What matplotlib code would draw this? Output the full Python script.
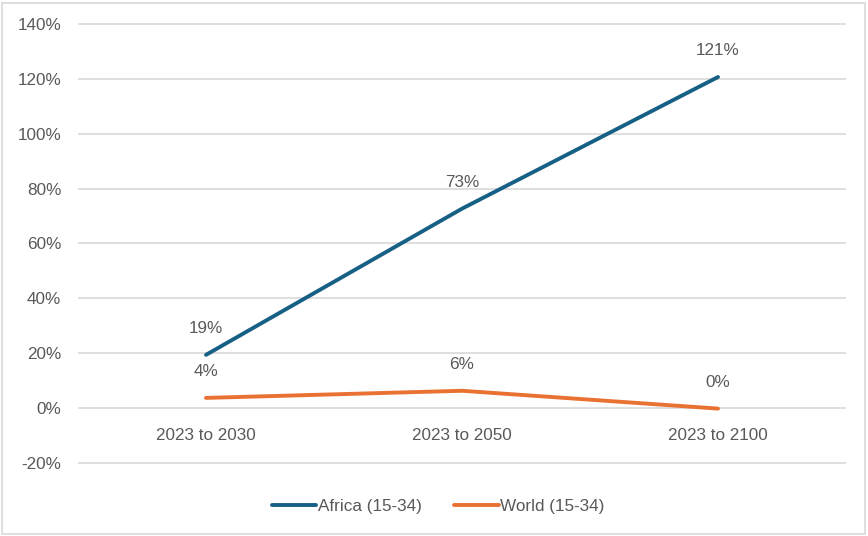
import matplotlib
matplotlib.use("Agg")
import matplotlib.pyplot as plt
from matplotlib.ticker import FuncFormatter
from matplotlib.patches import Rectangle

categories = ["2023 to 2030", "2023 to 2050", "2023 to 2100"]
africa = [0.194, 0.727, 1.207]
world = [0.037, 0.063, -0.002]
africa_labels = ["19%", "73%", "121%"]
world_labels = ["4%", "6%", "0%"]

plt.rcParams['font.family'] = ['Liberation Sans', 'DejaVu Sans']
text_col = "#595959"
blue = "#176085"
orange = "#E97132"
fs = 12.3

fig = plt.figure(figsize=(8.68, 5.36), dpi=100)
ax = fig.add_axes([78/868, 1-464/536, (846-78)/868, (464-23)/536])

x = list(range(len(categories)))
ax.plot(x, africa, color=blue, lw=2.8, solid_capstyle='round', label="Africa (15-34)", zorder=3)
ax.plot(x, world, color=orange, lw=2.8, solid_capstyle='round', label="World (15-34)", zorder=3)

for xi, v, lab in zip(x, africa, africa_labels):
    ax.annotate(lab, (xi, v), xytext=(0, 19), textcoords='offset points', ha='center', va='center',
                color=text_col, fontsize=fs)
for xi, v, lab in zip(x, world, world_labels):
    ax.annotate(lab, (xi, v), xytext=(0, 19), textcoords='offset points', ha='center', va='center',
                color=text_col, fontsize=fs)

ax.set_xlim(-0.5, 2.5)
ax.set_ylim(-0.2 - 0.004, 1.4 + 0.004)
ax.set_yticks([i / 10 for i in range(-2, 15, 2)])
ax.yaxis.set_major_formatter(FuncFormatter(lambda v, p: f"{round(v*100):.0f}%"))
ax.grid(axis='y', color="#d9d9d9", lw=1.2)
ax.set_axisbelow(True)
for s in ax.spines.values():
    s.set_visible(False)
ax.tick_params(axis='both', length=0, colors=text_col, labelsize=fs)
ax.tick_params(axis='y', pad=12)
ax.set_xticks([])
for xi, c in zip(x, categories):
    ax.annotate(c, (xi, 0), xytext=(0, -20), textcoords='offset points', ha='center', va='center',
                color=text_col, fontsize=fs)

leg = fig.legend(loc='center', bbox_to_anchor=(0.505, 1-506/536), ncol=2, frameon=False,
                 fontsize=fs, handlelength=2.6, handletextpad=0.1, columnspacing=1.9)
for t in leg.get_texts():
    t.set_color(text_col)

fig.patches.append(Rectangle((2/868, 2/536), 863/868, 531/536, transform=fig.transFigure,
                             fill=False, edgecolor="#d9d9d9", lw=1.2))
fig.savefig("out.png", dpi=100)
